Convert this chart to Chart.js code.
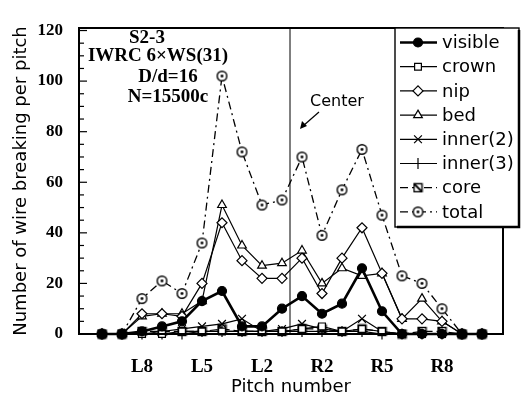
<!DOCTYPE html>
<html>
<head>
<meta charset="utf-8">
<script src="https://cdn.jsdelivr.net/npm/chart.js@4.4.1/dist/chart.umd.min.js"></script>
<style>
  html, body { margin: 0; padding: 0; background: #fff; }
  #wrap { width: 521px; height: 398px; }
</style>
</head>
<body>
<div id="wrap"><canvas id="breaks" width="521" height="398"></canvas></div>
<script>
// pitch positions along the rope, L10 .. L1 | R1 .. R10
const pitchNames = ["L10", "L9", "L8", "L7", "L6", "L5", "L4", "L3", "L2", "L1",
                    "R1", "R2", "R3", "R4", "R5", "R6", "R7", "R8", "R9", "R10"];
const labelledPitches = [2, 5, 8, 11, 14, 17];
const centerPitch = 9.4;

// wire breaks counted per pitch
const visible = [0, 0, 1, 3, 5, 13, 17, 3, 3, 10, 15, 8, 12, 26, 9, 0, 0, 0, 0, 0];
const crown   = [0, 0, 0, 0, 1, 1, 1, 1, 1, 1, 2, 3, 1, 2, 1, 0, 0, 0, 0, 0];
const nip     = [0, 0, 8, 8, 7, 20, 44, 29, 22, 22, 30, 16, 30, 42, 24, 6, 6, 5, 0, 0];
const bed     = [0, 0, 7, 8, 8, 13, 51, 35, 27, 28, 33, 20, 26, 23, 24, 6, 14, 5, 0, 0];
const inner2  = [0, 0, 0, 1, 2, 3, 4, 6, 1, 2, 4, 2, 1, 6, 1, 0, 0, 0, 0, 0];
const inner3  = [0, 0, 0, 0, 0, 1, 1, 1, 1, 1, 1, 1, 1, 1, 0, 0, 0, 0, 0, 0];
const core    = [0, 0, 1, 1, 1, 1, 2, 1, 1, 1, 2, 2, 1, 2, 1, 0, 1, 1, 0, 0];
const total   = [0, 0, 14, 21, 16, 36, 102, 72, 51, 53, 70, 39, 57, 73, 47, 23, 20, 10, 0, 0];

const yTickValues = [];
for (let v = 0; v <= 120; v += 5) yTickValues.push(v);

function pts(arr) {
  return arr.map((v, i) => ({ x: i, y: v }));
}

function marker(size, paint) {
  const c = document.createElement("canvas");
  c.width = size;
  c.height = size;
  const g = c.getContext("2d");
  g.strokeStyle = "#000";
  g.fillStyle = "#fff";
  g.lineWidth = 1.4;
  paint(g, size);
  return c;
}

// circle with a dot in the middle
const dotCircle = marker(13, (g, s) => {
  g.beginPath();
  g.arc(s / 2, s / 2, 4.8, 0, Math.PI * 2);
  g.fill();
  g.stroke();
  g.fillStyle = "#000";
  g.beginPath();
  g.arc(s / 2, s / 2, 1.4, 0, Math.PI * 2);
  g.fill();
});

// square crossed by one diagonal
const slashSquare = marker(11, (g, s) => {
  g.fillRect(1.5, 1.5, s - 3, s - 3);
  g.strokeRect(1.5, 1.5, s - 3, s - 3);
  g.lineWidth = 1.8;
  g.beginPath();
  g.moveTo(1.5, 1.5);
  g.lineTo(s - 1.5, s - 1.5);
  g.stroke();
});

function series(label, data, extra) {
  return Object.assign({
    label: label,
    data: pts(data),
    borderColor: "#000",
    borderWidth: 1.2,
    pointBorderColor: "#000",
    pointBackgroundColor: "#fff",
    pointBorderWidth: 1.2,
    pointRadius: 4.5,
    tension: 0,
    clip: false,
  }, extra);
}

const datasets = [
  series("visible", visible, { borderWidth: 2.6, pointStyle: "circle", pointBackgroundColor: "#000", pointRadius: 4.5 }),
  series("crown", crown, { pointStyle: "rect", pointRadius: 4.8 }),
  series("nip", nip, { pointStyle: "rectRot", pointRadius: 5 }),
  series("bed", bed, { pointStyle: "triangle", pointRadius: 5 }),
  series("inner(2)", inner2, { pointStyle: "crossRot", pointRadius: 5.5 }),
  series("inner(3)", inner3, { pointStyle: "cross", pointRadius: 5.5 }),
  series("core", core, { pointStyle: slashSquare, borderDash: [8, 4] }),
  series("total", total, { pointStyle: dotCircle, borderWidth: 1.3, borderDash: [8, 4, 2, 4] }),
];

// frame, inward y ticks and the centre line
const framePlugin = {
  id: "frame",
  afterDatasetsDraw(chart) {
    const { ctx, chartArea: a, scales } = chart;
    ctx.save();
    ctx.strokeStyle = "#000";
    ctx.lineWidth = 1;
    const cx = scales.x.getPixelForValue(centerPitch);
    ctx.beginPath();
    ctx.moveTo(cx, a.top);
    ctx.lineTo(cx, a.bottom);
    ctx.stroke();

    ctx.lineWidth = 1.2;
    yTickValues.forEach((v) => {
      const y = scales.y.getPixelForValue(v);
      const len = v % 20 === 0 ? 8 : 5;
      ctx.beginPath();
      ctx.moveTo(a.left, y);
      ctx.lineTo(a.left + len, y);
      ctx.stroke();
    });

    ctx.lineWidth = 2;
    ctx.strokeRect(a.left, a.top, a.right - a.left, a.bottom - a.top);
    ctx.restore();
  },
};

// test condition block, "Center" arrow and the boxed legend
const notesPlugin = {
  id: "notes",
  afterDraw(chart) {
    const ctx = chart.ctx;
    ctx.save();
    ctx.fillStyle = "#000";
    ctx.textAlign = "center";
    ctx.textBaseline = "middle";
    ctx.font = "bold 19px 'Liberation Serif'";
    ctx.fillText("S2-3", 147, 38);
    ctx.fillText("IWRC 6×WS(31)", 158, 56);
    ctx.fillText("D/d=16", 168, 77);
    ctx.fillText("N=15500c", 168, 97);

    ctx.font = "16px 'DejaVu Sans'";
    ctx.fillText("Center", 337, 102);
    ctx.strokeStyle = "#000";
    ctx.lineWidth = 1.2;
    ctx.beginPath();
    ctx.moveTo(319, 112);
    ctx.lineTo(303, 126);
    ctx.stroke();
    ctx.beginPath();
    ctx.moveTo(300, 129);
    ctx.lineTo(302, 121);
    ctx.lineTo(307, 126);
    ctx.closePath();
    ctx.fill();

    // legend box
    const bx = 395, by = 28, bw = 124, bh = 199;
    ctx.fillStyle = "#fff";
    ctx.fillRect(bx, by, bw, bh);
    ctx.lineWidth = 1.4;
    ctx.strokeRect(bx, by, bw, bh);
    ctx.lineWidth = 2.5;
    ctx.beginPath();
    ctx.moveTo(bx + 2, by + bh);
    ctx.lineTo(bx + bw, by + bh);
    ctx.lineTo(bx + bw, by + 2);
    ctx.stroke();

    ctx.textAlign = "left";
    ctx.font = "18px 'DejaVu Sans'";
    chart.data.datasets.forEach((ds, i) => {
      const y = 42.5 + i * 24.2;
      ctx.strokeStyle = "#000";
      ctx.lineWidth = ds.borderWidth;
      ctx.setLineDash(ds.borderDash || []);
      ctx.beginPath();
      ctx.moveTo(400, y);
      ctx.lineTo(437, y);
      ctx.stroke();
      ctx.setLineDash([]);
      ctx.fillStyle = ds.pointBackgroundColor;
      ctx.lineWidth = ds.pointBorderWidth;
      Chart.helpers.drawPoint(ctx, {
        pointStyle: ds.pointStyle,
        radius: ds.pointRadius,
        rotation: 0,
        borderWidth: ds.pointBorderWidth,
      }, 418, y);
      ctx.fillStyle = "#000";
      ctx.fillText(ds.label, 442, y + 1);
    });
    ctx.restore();
  },
};

Chart.defaults.font.family = "'DejaVu Sans'";
Chart.defaults.color = "#000";

new Chart(document.getElementById("breaks"), {
  type: "line",
  data: { datasets: datasets },
  options: {
    responsive: false,
    animation: false,
    layout: { padding: { top: 28, right: 18, left: 0, bottom: 0 } },
    plugins: {
      legend: { display: false },
      tooltip: { enabled: false },
    },
    scales: {
      x: {
        type: "linear",
        min: -1.15,
        max: 20.05,
        afterFit: (s) => { s.height = 64; },
        afterBuildTicks: (s) => { s.ticks = labelledPitches.map((v) => ({ value: v })); },
        grid: { display: false, drawTicks: false },
        border: { display: false },
        ticks: {
          padding: 22,
          autoSkip: false,
          maxRotation: 0,
          font: { family: "'Liberation Serif'", weight: "bold", size: 19 },
          callback: (v) => pitchNames[v],
        },
        title: {
          display: true,
          text: "Pitch number",
          font: { size: 18 },
          padding: { top: 0, bottom: 0 },
        },
      },
      y: {
        min: 0,
        max: 121,
        afterFit: (s) => { s.width = 79; },
        afterBuildTicks: (s) => { s.ticks = yTickValues.map((v) => ({ value: v })); },
        grid: { display: false, drawTicks: false },
        border: { display: false },
        ticks: {
          padding: 16,
          autoSkip: false,
          font: { family: "'Liberation Serif'", weight: "bold", size: 17 },
          callback: (v) => (v % 20 === 0 ? String(v) : ""),
        },
        title: {
          display: true,
          text: "Number of wire breaking per pitch",
          font: { size: 18 },
          padding: { top: 11, bottom: 0 },
        },
      },
    },
  },
  plugins: [framePlugin, notesPlugin],
});
</script>
</body>
</html>
